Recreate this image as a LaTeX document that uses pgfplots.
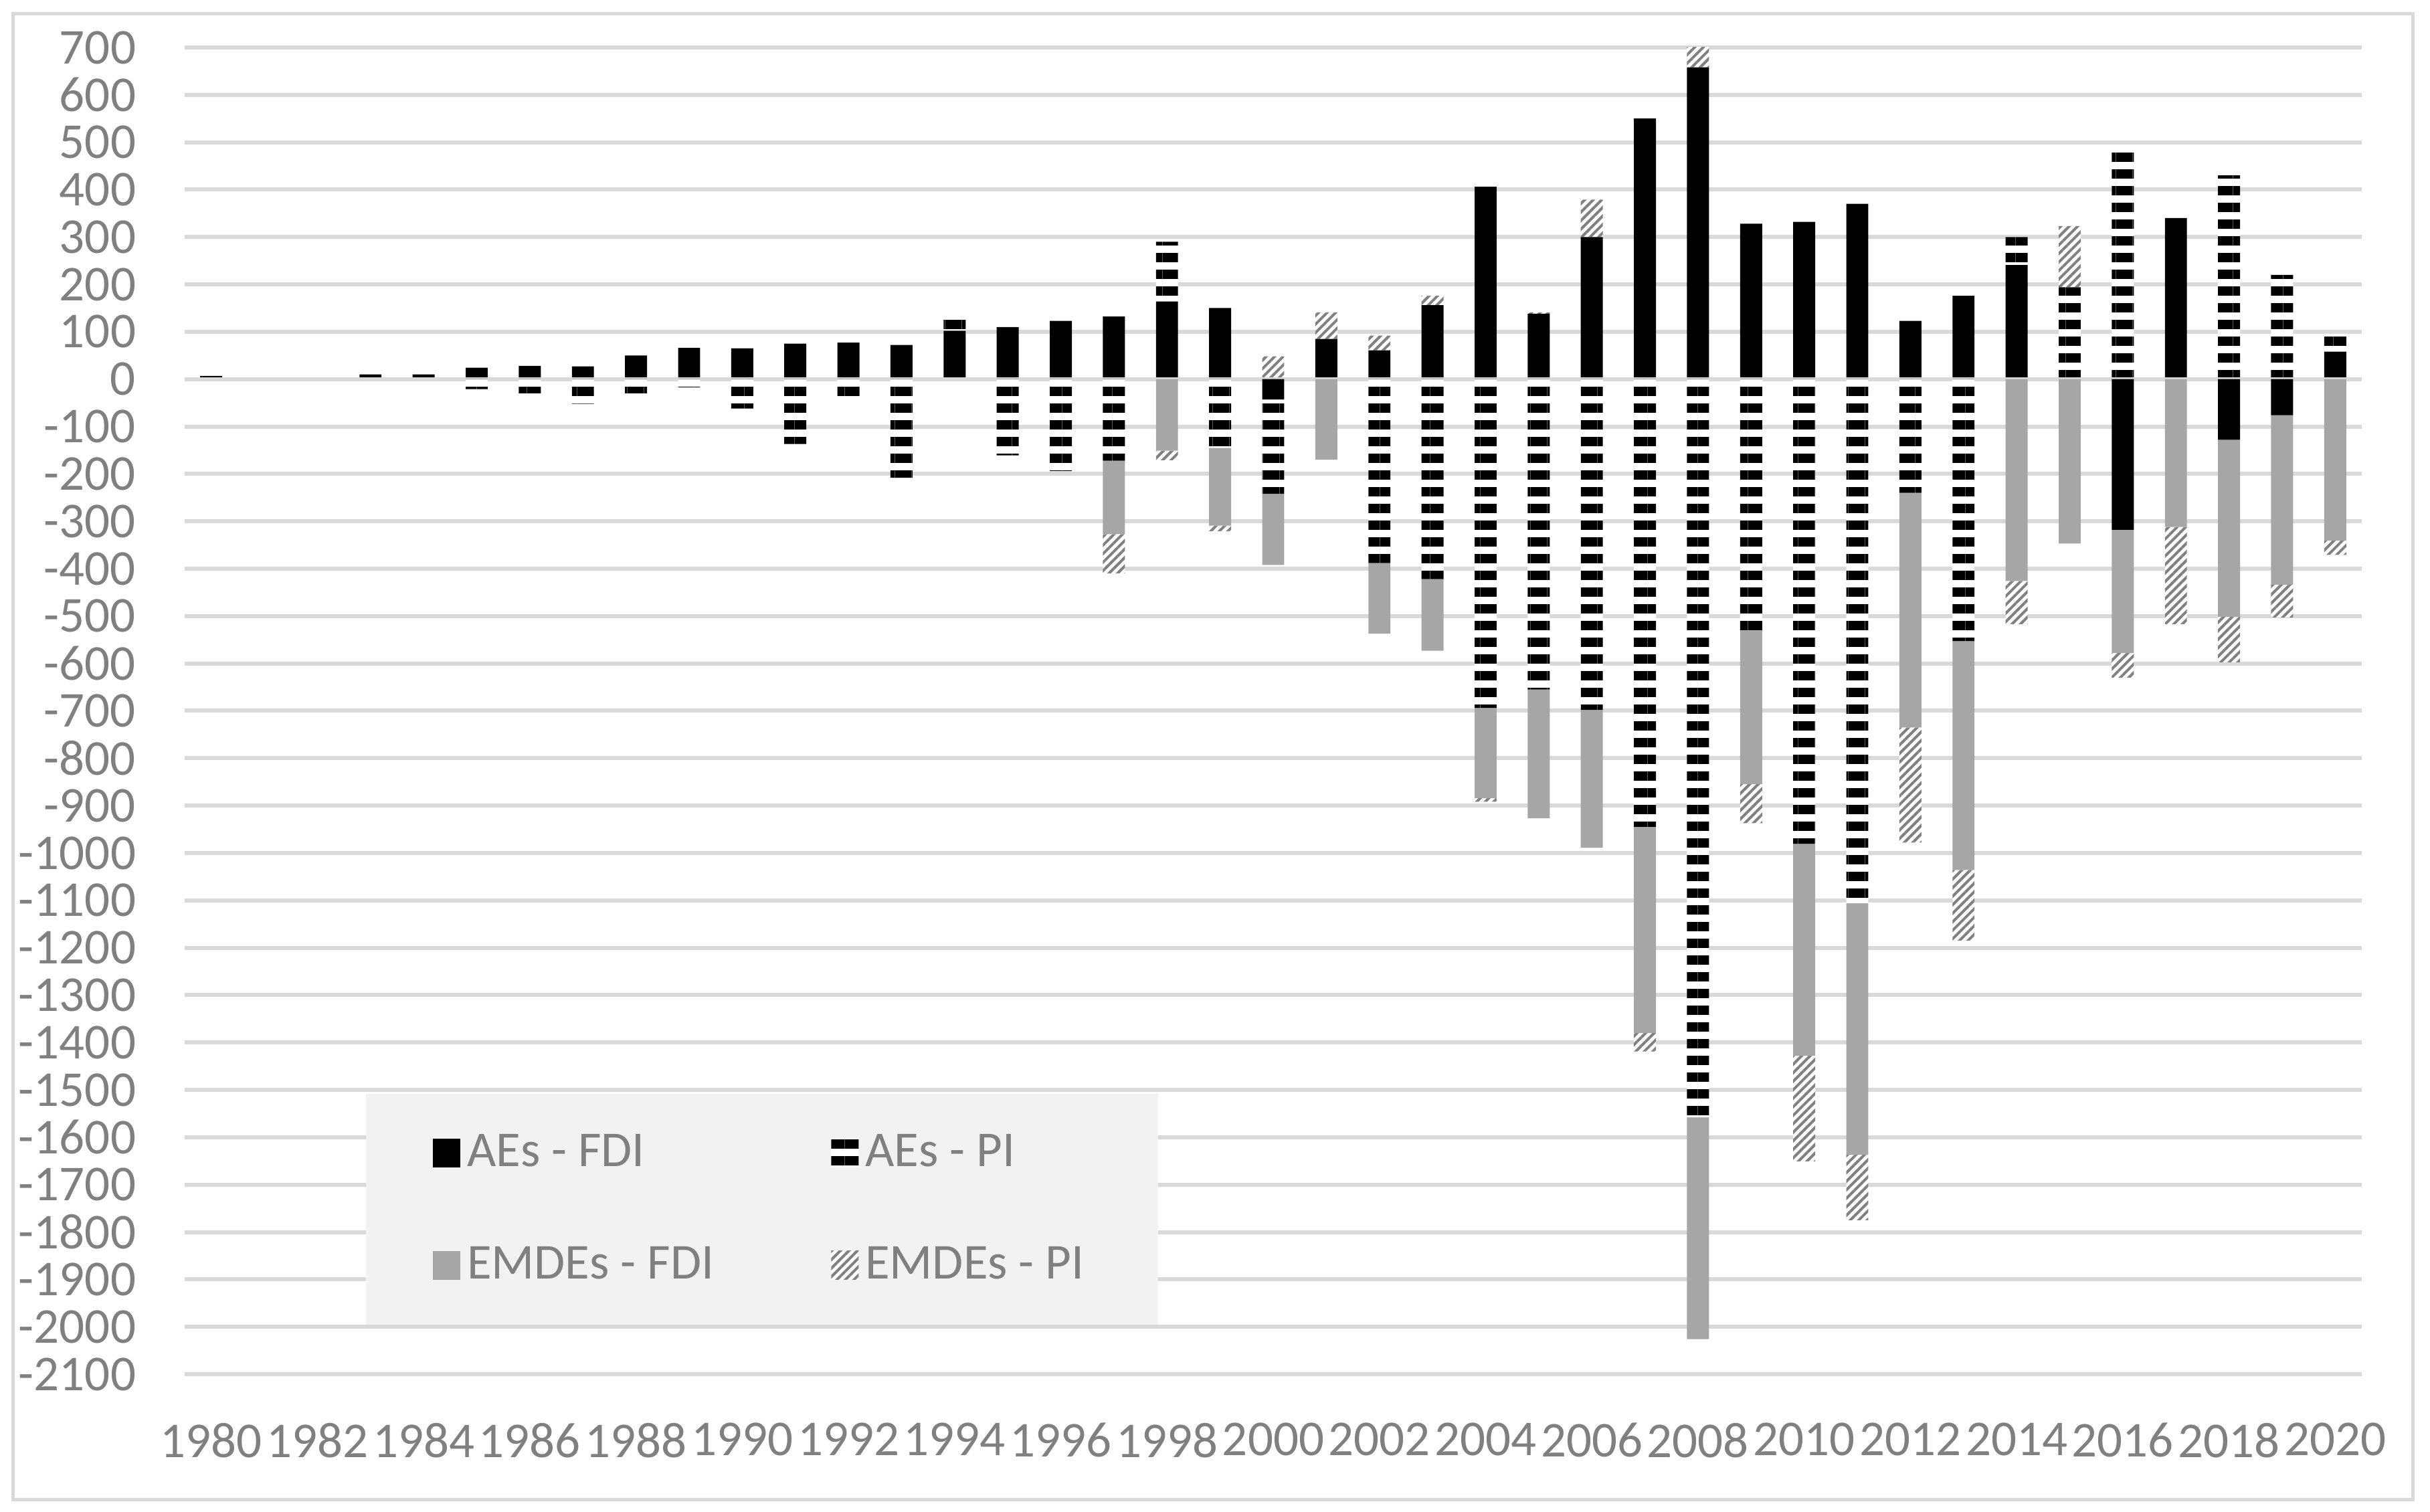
\documentclass[border=0pt]{standalone}
\usepackage{fontspec}
\setmainfont{Carlito}
\usepackage{pgfplots}
\pgfplotsset{compat=1.18}
\usepackage{pgfplotstable}
\usetikzlibrary{patterns.meta}

\definecolor{gridgray}{HTML}{D9D9D9}
\definecolor{txtgray}{HTML}{808080}
\definecolor{emfdi}{HTML}{A6A6A6}
\definecolor{hatchgray}{HTML}{808080}
\definecolor{legbg}{HTML}{F2F2F2}

% positive parts (stacked upwards from 0)
\pgfplotstableread{
year af ap ef ep
1980 7 0 0 0
1981 0 0 0 0
1982 0 0 0 0
1983 10 0 0 0
1984 10 0 0 0
1985 24 0 0 0
1986 28 0 0 0
1987 27 0 0 0
1988 50 0 0 0
1989 66 0 0 0
1990 65 0 0 0
1991 75 0 0 0
1992 77 0 0 0
1993 72 0 0 0
1994 102 24 0 0
1995 110 0 0 0
1996 123 0 0 0
1997 132 0 0 0
1998 164 126 0 0
1999 150 0 0 0
2000 0 0 0 48
2001 85 0 0 56
2002 61 0 0 31
2003 156 0 0 20
2004 406 0 0 0
2005 138 0 0 3
2006 300 0 0 79
2007 550 0 0 0
2008 658 0 0 44
2009 328 0 0 0
2010 332 0 0 0
2011 370 0 0 0
2012 123 0 0 0
2013 176 0 0 0
2014 241 59 0 0
2015 0 194 0 129
2016 0 482 0 0
2017 340 0 0 0
2018 0 430 0 0
2019 0 220 0 0
2020 58 35 0 0
}\datapos

% negative parts (stacked downwards from 0)
\pgfplotstableread{
year af ap ef ep
1980 0 0 0 0
1981 0 0 0 0
1982 0 0 0 0
1983 0 0 0 0
1984 0 0 0 0
1985 0 -21 0 0
1986 0 -30 0 0
1987 0 -52 0 0
1988 0 -30 0 0
1989 0 -17 0 0
1990 0 -62 0 0
1991 0 -137 0 0
1992 0 -48 0 0
1993 0 -208 0 0
1994 0 0 0 0
1995 0 -161 0 0
1996 0 -194 0 0
1997 0 -172 -155 -83
1998 0 0 -151 -20
1999 0 -145 -164 -12
2000 -43 -199 -150 0
2001 0 0 -170 0
2002 0 -388 -149 0
2003 0 -422 -151 0
2004 0 -694 -190 -8
2005 0 -655 -272 0
2006 0 -698 -291 0
2007 0 -945 -435 -39
2008 0 -1558 -468 0
2009 0 -530 -325 -82
2010 0 -981 -447 -223
2011 0 -1106 -531 -138
2012 0 -240 -495 -243
2013 0 -553 -483 -149
2014 0 0 -426 -91
2015 0 0 -347 0
2016 -318 0 -260 -52
2017 0 0 -312 -205
2018 -128 0 -374 -96
2019 -76 0 -358 -69
2020 0 0 -341 -30
}\dataneg

\pgfplotsset{
  sw/.style={legend image code/.code={\path[##1,draw=none] (0pt,-4.3pt) rectangle (8.2pt,4.3pt);}},
  s af/.style={fill=black, draw=none},
  s ap/.style={fill=white, draw=none,
    postaction={pattern={Lines[angle=0,distance=5pt,line width=2.8pt]}, pattern color=black}},
  s ef/.style={fill=emfdi, draw=none},
  s ep/.style={fill=white, draw=none,
    postaction={pattern={Lines[angle=45,distance=1.8pt,line width=0.8pt]}, pattern color=hatchgray}},
  base/.style={scale only axis, width=650.8pt, height=396.6pt,
    at={(55.2pt,41.2pt)}, anchor=south west,
    xmin=1979.5, xmax=2020.5, ymin=-2100, ymax=700,
    ybar stacked, bar width=0.415,
    axis line style={draw=none}, tick style={draw=none}, major tick length=0pt},
}

\begin{document}
\begin{tikzpicture}
\useasboundingbox (0,0) rectangle (726.4pt,452pt);
\draw[gridgray, line width=1pt] (3.8pt,3.6pt) rectangle (721.2pt,447.8pt);

\begin{axis}[base,
  ytick={-2100,-2000,...,700}, xtick={1980,1982,...,2020},
  ymajorgrids, grid style={gridgray, line width=1.2pt},
  tick label style={font=\fontsize{15}{18}\selectfont, text=txtgray,
    /pgf/number format/assume math mode=true, /pgf/number format/1000 sep={}},
  yticklabel style={anchor=east, inner sep=0pt, xshift=-14.4pt},
  xticklabel style={anchor=north, inner sep=0pt, yshift=-14.4pt},
  legend columns=2, legend cell align=left,
  legend style={at={(0.083,0.212)}, anchor=north west, fill=legbg, draw=none,
    inner xsep=20pt, inner ysep=10.2pt, font=\fontsize{15}{18}\selectfont, text=txtgray,
    row sep=18.4pt, /tikz/every even column/.append style={column sep=33pt}},
]
\addplot[s af, sw] table[x=year, y=af] {\datapos};
\addlegendentry{AEs - FDI}
\addplot[s ap, sw] table[x=year, y=ap] {\datapos};
\addlegendentry{AEs - PI}
\addplot[s ef, sw] table[x=year, y=ef] {\datapos};
\addlegendentry{EMDEs - FDI}
\addplot[s ep, sw] table[x=year, y=ep] {\datapos};
\addlegendentry{EMDEs - PI}
\end{axis}

\begin{axis}[base, xtick=\empty, ytick=\empty]
\addplot[s af] table[x=year, y=af] {\dataneg};
\addplot[s ap] table[x=year, y=ap] {\dataneg};
\addplot[s ef] table[x=year, y=ef] {\dataneg};
\addplot[s ep] table[x=year, y=ep] {\dataneg};
\draw[gridgray, line width=1.2pt] (axis cs:1979.5,0) -- (axis cs:2020.5,0);
\end{axis}
\end{tikzpicture}
\end{document}
